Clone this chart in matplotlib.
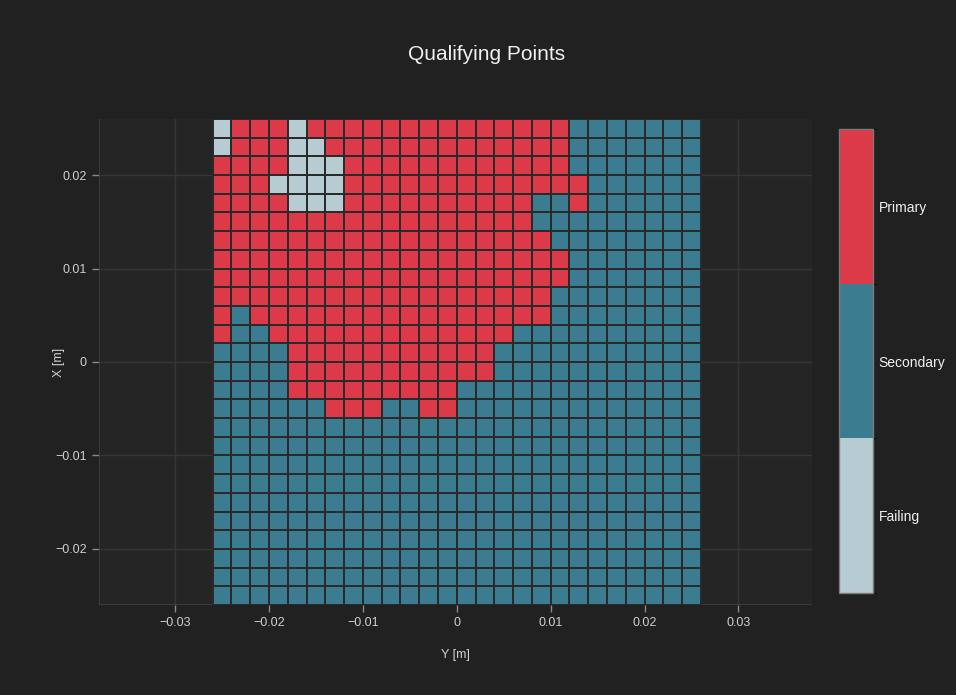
import numpy as np
import matplotlib
matplotlib.use("Agg")
import matplotlib.pyplot as plt
from matplotlib.colors import ListedColormap, BoundaryNorm

plt.rcParams['font.family'] = ['Liberation Sans', 'DejaVu Sans']
plt.rcParams['axes.unicode_minus'] = True

# cell centres [m], same grid on both axes
y_pos = [-0.025, -0.023, -0.021, -0.019, -0.017, -0.015, -0.013, -0.011, -0.009,
         -0.007, -0.005, -0.003, -0.001, 0.001, 0.003, 0.005, 0.007, 0.009,
         0.011, 0.013, 0.015, 0.017, 0.019, 0.021, 0.023, 0.025]
x_pos = list(y_pos)

# P = primary, S = secondary, F = failing ; one string per row, top row (X=0.025) first
rows = [
    "FPPPFPPPPPPPPPPPPPPSSSSSSS",
    "FPPPFFPPPPPPPPPPPPPSSSSSSS",
    "PPPPFFFPPPPPPPPPPPPSSSSSSS",
    "PPPFFFFPPPPPPPPPPPPPSSSSSS",
    "PPPPFFFPPPPPPPPPPSSPSSSSSS",
    "PPPPPPPPPPPPPPPPPSSSSSSSSS",
    "PPPPPPPPPPPPPPPPPPSSSSSSSS",
    "PPPPPPPPPPPPPPPPPPPSSSSSSS",
    "PPPPPPPPPPPPPPPPPPPSSSSSSS",
    "PPPPPPPPPPPPPPPPPPSSSSSSSS",
    "PSPPPPPPPPPPPPPPPPSSSSSSSS",
    "PSSPPPPPPPPPPPPPSSSSSSSSSS",
    "SSSSPPPPPPPPPPPSSSSSSSSSSS",
    "SSSSPPPPPPPPPPPSSSSSSSSSSS",
    "SSSSPPPPPPPPPSSSSSSSSSSSSS",
    "SSSSSSPPPSSPPSSSSSSSSSSSSS",
    "SSSSSSSSSSSSSSSSSSSSSSSSSS",
    "SSSSSSSSSSSSSSSSSSSSSSSSSS",
    "SSSSSSSSSSSSSSSSSSSSSSSSSS",
    "SSSSSSSSSSSSSSSSSSSSSSSSSS",
    "SSSSSSSSSSSSSSSSSSSSSSSSSS",
    "SSSSSSSSSSSSSSSSSSSSSSSSSS",
    "SSSSSSSSSSSSSSSSSSSSSSSSSS",
    "SSSSSSSSSSSSSSSSSSSSSSSSSS",
    "SSSSSSSSSSSSSSSSSSSSSSSSSS",
    "SSSSSSSSSSSSSSSSSSSSSSSSSS",
]
categories = ["Failing", "Secondary", "Primary"]
colors = ["#b7ccd2", "#3c7c91", "#dc3a48"]

code = {"F": 0, "S": 1, "P": 2}
z = np.array([[code[c] for c in r] for r in rows])[::-1]  # bottom row first

bg = "#212121"
fig = plt.figure(figsize=(9.56, 6.95), dpi=100, facecolor=bg)
ax = fig.add_axes([0.1036, 0.1295, 0.7454, 0.6993], facecolor="#252525")

step = 0.002
xe = np.append(np.array(y_pos) - step / 2, y_pos[-1] + step / 2)
ye = np.append(np.array(x_pos) - step / 2, x_pos[-1] + step / 2)

cmap = ListedColormap(colors)
norm = BoundaryNorm([-0.5, 0.5, 1.5, 2.5], 3)
mesh = ax.pcolormesh(xe, ye, z, cmap=cmap, norm=norm,
                     edgecolors="#2a2a2a", linewidth=1.2, zorder=2)

ax.set_xlim(-0.0381, 0.0378)
ax.set_ylim(-0.026, 0.026)
ax.set_xticks([-0.03, -0.02, -0.01, 0, 0.01, 0.02, 0.03])
ax.set_xticklabels(["\u22120.03", "\u22120.02", "\u22120.01", "0", "0.01", "0.02", "0.03"])
ax.set_yticks([-0.02, -0.01, 0, 0.01, 0.02])
ax.set_yticklabels(["\u22120.02", "\u22120.01", "0", "0.01", "0.02"])
ax.grid(True, color="#363636", linewidth=1, zorder=0)
ax.set_axisbelow(True)
for s in ax.spines.values():
    s.set_visible(False)
ax.axhline(-0.026, color="#3a3a3a", linewidth=1.5, zorder=1)
ax.axvline(-0.0381, color="#3a3a3a", linewidth=1.5, zorder=1)
ax.tick_params(colors="#cfcfcf", labelsize=9, length=5, width=1, pad=4)
ax.tick_params(axis="both", color="#8a8a8a")

ax.set_xlabel("Y [m]", color="#cfcfcf", fontsize=9, labelpad=14)
ax.set_ylabel("X [m]", color="#cfcfcf", fontsize=9)
ax.yaxis.set_label_coords(-0.048, 0.5)
fig.text(0.509, 0.921, "Qualifying Points", color="#f0f0f0", fontsize=15,
         ha="center", va="center")

cax = fig.add_axes([839 / 956, 1 - 593 / 695, 34 / 956, 464 / 695])
cb = fig.colorbar(mesh, cax=cax, ticks=[0, 1, 2])
cb.set_ticklabels(categories)
cb.outline.set_edgecolor("#7a7a7a")
cb.outline.set_linewidth(1)
cax.tick_params(length=0, labelsize=10, labelcolor="#f0f0f0", pad=4)

fig.savefig("out.png", dpi=100, facecolor=bg)
